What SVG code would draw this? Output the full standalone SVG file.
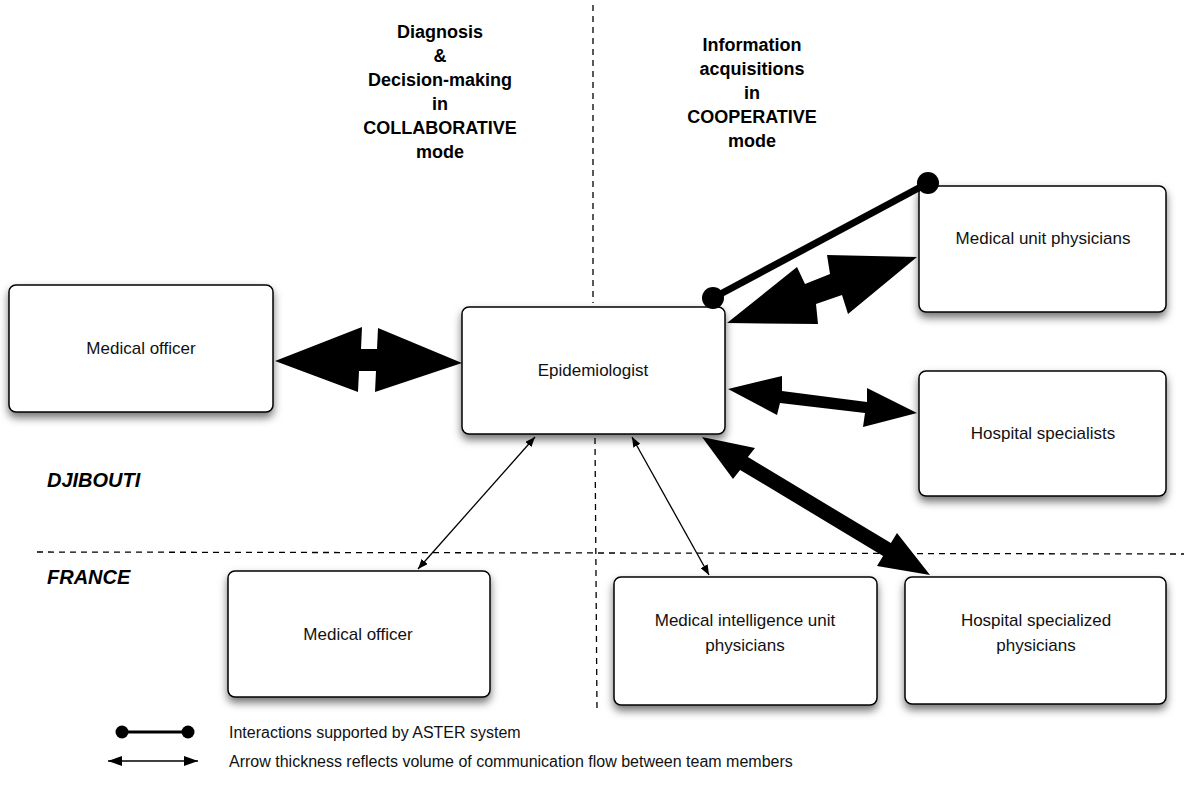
<svg xmlns="http://www.w3.org/2000/svg" width="1184" height="799" viewBox="0 0 1184 799">
<defs>
<filter id="sh" x="-10%" y="-10%" width="120%" height="135%">
<feDropShadow dx="0" dy="5" stdDeviation="4" flood-color="#000" flood-opacity="0.55"/>
</filter>
<marker id="ah" viewBox="0 0 10 8" refX="10" refY="4" markerWidth="10" markerHeight="8" markerUnits="userSpaceOnUse" orient="auto-start-reverse">
<path d="M0,0 L10,4 L0,8 Z" fill="#000"/>
</marker>
<marker id="ahL" viewBox="0 0 14 10" refX="14" refY="5" markerWidth="14" markerHeight="10" markerUnits="userSpaceOnUse" orient="auto-start-reverse">
<path d="M0,0 L14,5 L0,10 Z" fill="#000"/>
</marker>
</defs>
<style>
.box{fill:#fff;stroke:#000;stroke-width:1.5;filter:url(#sh)}
.lbl{font-family:"Liberation Sans",Arial,sans-serif;font-size:17px;fill:#111;text-anchor:middle}
.ttl{font-family:"Liberation Sans",Arial,sans-serif;font-size:18px;font-weight:bold;fill:#000;text-anchor:middle}
.reg{font-family:"Liberation Sans",Arial,sans-serif;font-size:20px;font-weight:bold;font-style:italic;fill:#000}
.leg{font-family:"Liberation Sans",Arial,sans-serif;font-size:16px;fill:#111}
.dash{stroke:#000;stroke-width:1.3;stroke-dasharray:6,5;fill:none}
.thin{stroke:#000;stroke-width:1.3;fill:none;marker-start:url(#ah);marker-end:url(#ah)}
</style>
<rect width="1184" height="799" fill="#fff"/>

<g id="dividers">
<line class="dash" x1="593" y1="5" x2="593" y2="303"/>
<line class="dash" x1="595" y1="438" x2="597" y2="712"/>
<line class="dash" x1="37" y1="552" x2="1184" y2="554"/>
</g>

<g id="titles">
<text class="ttl" x="440" y="38">Diagnosis</text>
<text class="ttl" x="440" y="62">&amp;</text>
<text class="ttl" x="440" y="86">Decision-making</text>
<text class="ttl" x="440" y="110">in</text>
<text class="ttl" x="440" y="134">COLLABORATIVE</text>
<text class="ttl" x="440" y="158">mode</text>
<text class="ttl" x="752" y="51">Information</text>
<text class="ttl" x="752" y="75">acquisitions</text>
<text class="ttl" x="752" y="99">in</text>
<text class="ttl" x="752" y="123">COOPERATIVE</text>
<text class="ttl" x="752" y="147">mode</text>
<text class="reg" x="47" y="487">DJIBOUTI</text>
<text class="reg" x="47" y="584">FRANCE</text>
</g>

<g id="node-medical-officer-dj">
<rect class="box" x="9" y="285" width="264" height="127" rx="7"/>
<text class="lbl" x="141" y="354">Medical officer</text>
</g>
<g id="node-epidemiologist">
<rect class="box" x="462" y="307" width="263" height="127" rx="7"/>
<text class="lbl" x="593" y="376">Epidemiologist</text>
</g>
<g id="node-medical-unit-physicians">
<rect class="box" x="919" y="186" width="247" height="126" rx="7"/>
<text class="lbl" x="1043" y="244">Medical unit physicians</text>
</g>
<g id="node-hospital-specialists">
<rect class="box" x="919" y="371" width="247" height="125" rx="7"/>
<text class="lbl" x="1043" y="439">Hospital specialists</text>
</g>
<g id="node-medical-officer-fr">
<rect class="box" x="228" y="571" width="262" height="126" rx="7"/>
<text class="lbl" x="358" y="640">Medical officer</text>
</g>
<g id="node-medical-intelligence">
<rect class="box" x="614" y="577" width="263" height="128" rx="7"/>
<text class="lbl" x="745" y="626">Medical intelligence unit</text>
<text class="lbl" x="745" y="651">physicians</text>
</g>
<g id="node-hospital-specialized">
<rect class="box" x="905" y="577" width="261" height="127" rx="7"/>
<text class="lbl" x="1036" y="626">Hospital specialized</text>
<text class="lbl" x="1036" y="651">physicians</text>
</g>

<g id="connectors">
<polygon fill="#000" points="275,361 362,327 361,349 377,349 378,328 462,363 375,392 376,371 359,371 358,392"/>
<polygon fill="#000" points="727,323 797,267 805,284 830,274 827,255 917,257 848,314 842,295 816,304 818,324"/>
<polygon fill="#000" points="728,389 782,376 782,391 867,402 867,388 917,413 863,427 865,413 780,403 777,415"/>
<polygon fill="#000" points="702,437 755,448 747.9,457.1 890.9,543.1 897,533 930,575 877,566 883.1,555.9 740.1,469.9 733,479"/>
<line stroke="#000" stroke-width="7" x1="713" y1="298" x2="928" y2="183"/>
<circle cx="713" cy="298" r="11" fill="#000"/>
<circle cx="928" cy="183" r="11" fill="#000"/>
<line class="thin" x1="535" y1="437" x2="418" y2="569"/>
<line class="thin" x1="632" y1="437" x2="709" y2="575"/>
</g>

<g id="legend">
<line stroke="#000" stroke-width="3" x1="122" y1="732" x2="188" y2="732"/>
<circle cx="122" cy="732" r="6.5" fill="#000"/>
<circle cx="188" cy="732" r="6.5" fill="#000"/>
<text class="leg" x="229" y="738">Interactions supported by ASTER system</text>
<line stroke="#000" stroke-width="1.5" x1="108" y1="761" x2="198" y2="761" marker-start="url(#ahL)" marker-end="url(#ahL)"/>
<text class="leg" x="229" y="767">Arrow thickness reflects volume of communication flow between team members</text>
</g>
</svg>
